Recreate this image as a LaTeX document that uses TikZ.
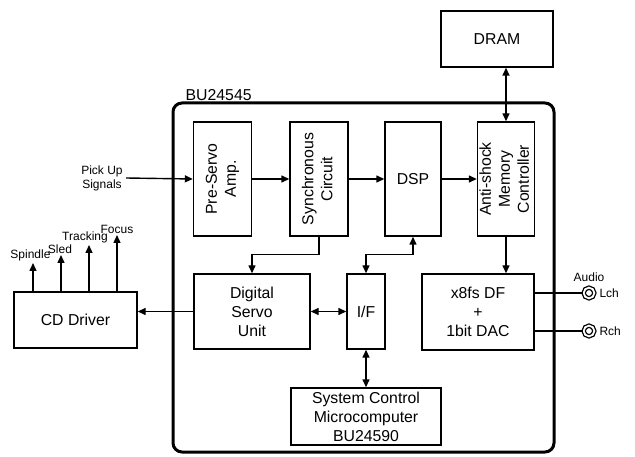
\documentclass[tikz,border=0pt]{standalone}
\usepackage{fontspec}
\setmainfont{Liberation Sans}
\usetikzlibrary{arrows.meta,positioning}
\tikzstyle{block} = [rectangle, draw=black, line width=1.4pt, inner sep=0pt, text centered, align=center]
\tikzstyle{arrow} = [line width=1.4pt,->,>={Triangle[length=8pt,width=7pt]}]
\tikzstyle{dblarrow} = [arrow,<->]
\tikzstyle{jack} = [circle, draw=black, line width=1.3pt, double, double distance=1.8pt, minimum size=10.7pt, inner sep=0pt]
\newcommand{\smallfont}{\fontsize{12}{14}\selectfont}
\newcommand{\vtext}[1]{\rotatebox{90}{\begin{tabular}{@{}c@{}}#1\end{tabular}}}

\begin{document}
\begin{tikzpicture}[x=1pt,y=-1pt,font=\fontsize{15.8}{19}\selectfont]
	\useasboundingbox (0,0) rectangle (635,457);
	\coordinate (chip) at (363.5,277.5);
	\coordinate (dram) at (497,39);
	\coordinate (pre) at (222.5,179);
	\coordinate (sync) at (319,179);
	\coordinate (dsp) at (413,179);
	\coordinate (anti) at (506,179);
	\coordinate (dsu) at (252,311.5);
	\coordinate (if) at (366,311.5);
	\coordinate (df) at (478,312);
	\coordinate (sys) at (366,416.5);
	\coordinate (cdd) at (75.5,320);
	% Chip outline
	\node[name=chip, draw, line width=3pt, rounded corners=9pt, minimum width=381pt, minimum height=349pt, inner sep=0pt] at (chip) {};
	\node[name=chipname, anchor=south west, inner sep=1pt] at ([xshift=13pt]chip.north west) {BU24545};
	% Signal path
	\begin{scope}[every node/.style={block, minimum width=58pt, minimum height=114pt}]
	\node[name=pre] at (pre) {\vtext{Pre-Servo\\Amp.}};
	\node[name=sync] at (sync) {\vtext{Synchronous\\Circuit}};
	\node[name=dsp, minimum width=56pt] at (dsp) {DSP};
	\node[name=anti, minimum width=56pt] at (anti) {\vtext{Anti-shock\\Memory\\Controller}};
	\end{scope}
	% Other blocks
	\node[name=dram, block, minimum width=112pt, minimum height=56pt] at (dram) {DRAM};
	\node[name=dsu, block, minimum width=116pt, minimum height=75pt] at (dsu) {Digital\\Servo\\Unit};
	\node[name=if, block, minimum width=38pt, minimum height=75pt] at (if) {I/F};
	\node[name=df, block, minimum width=112pt, minimum height=76pt] at (df) {x8fs DF\\+\\1bit DAC};
	\node[name=sys, block, minimum width=150pt, minimum height=57pt] at (sys) {System Control\\Microcomputer\\BU24590};
	\node[name=cdd, block, minimum width=123pt, minimum height=56pt] at (cdd) {CD Driver};
	% Input and outputs
	\node[name=pickup, font=\smallfont, align=center] at (102,178) {Pick Up\\Signals};
	\node[name=lch, jack] at (589,293) {};
	\node[name=rch, jack] at (589,331) {};
	\node[name=audio, above=2pt of lch, font=\smallfont] {Audio};
	\node[name=lchname, right=1pt of lch, font=\smallfont] {Lch};
	\node[name=rchname, right=1pt of rch, font=\smallfont] {Rch};
	% Connections
	\draw [arrow] (pickup.east)--(pre.west);
	\draw [arrow] (pre.east)--(sync.west);
	\draw [arrow] (sync.east)--(dsp.west);
	\draw [arrow] (dsp.east)--(anti.west);
	\draw [dblarrow] (anti.north)--(anti.north |- dram.south);
	\draw [arrow] (anti.south)--(anti.south |- df.north);
	\draw [arrow] (sync.south)--++(0,18) -| (dsu.north);
	\draw [dblarrow] (dsp.south)--++(0,18) -| (if.north);
	\draw [dblarrow] (dsu.east)--(if.west);
	\draw [dblarrow] (if.south)--(sys.north);
	\draw [arrow] (dsu.west)--(dsu.west -| cdd.east);
	\draw [line width=1.4pt] (df.east |- lch)--(lch.west);
	\draw [line width=1.4pt] (df.east |- rch)--(rch.west);
	% CD driver outputs
	\foreach \x/\y/\dx/\name [count=\i] in {33/263/-2.5/Spindle, 61/255/-1/Sled, 89/245/-4/Tracking, 117/235/0/Focus} {
		\coordinate (drv\i) at (\x,\y);
		\draw [arrow] (cdd.north -| drv\i)--(drv\i) node[above, xshift=\dx pt, inner sep=1pt, font=\smallfont] {\name};
	}
\end{tikzpicture}
\end{document}
